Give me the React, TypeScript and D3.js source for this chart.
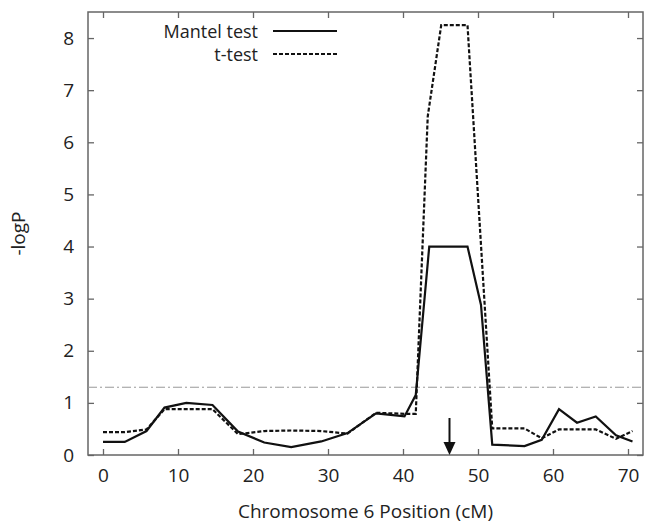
import React, { useEffect, useRef } from 'react';
import * as d3 from 'd3';

// marker positions (cM) and -logP values
const mantelPos = [0, 2.9, 5.8, 8.2, 11.1, 14.6, 18.0, 21.5, 25.1, 29.1, 32.6, 36.4, 40.2, 41.7, 43.5, 45.1, 48.6, 50.4, 51.9, 56.2, 58.5, 60.8, 63.2, 65.7, 68.4, 70.6];
const mantelVal = [0.25, 0.25, 0.46, 0.91, 1.0, 0.96, 0.45, 0.24, 0.15, 0.26, 0.42, 0.8, 0.74, 1.15, 4.0, 4.0, 4.0, 2.88, 0.2, 0.17, 0.29, 0.88, 0.62, 0.74, 0.38, 0.26];

const tPos = [0, 2.9, 5.8, 8.2, 11.1, 14.6, 18.0, 21.5, 25.1, 29.1, 32.6, 36.4, 40.2, 41.7, 43.3, 45.1, 48.6, 51.9, 56.2, 58.5, 60.8, 63.2, 65.7, 68.4, 70.6];
const tVal = [0.44, 0.44, 0.49, 0.88, 0.88, 0.88, 0.4, 0.46, 0.47, 0.46, 0.41, 0.81, 0.79, 0.79, 6.5, 8.25, 8.25, 0.51, 0.51, 0.32, 0.49, 0.49, 0.49, 0.31, 0.46];

const xTicks = [0, 10, 20, 30, 40, 50, 60, 70];
const yTicks = [0, 1, 2, 3, 4, 5, 6, 7, 8];
const threshold = 1.3;
const arrowPos = 46.2;

const seriesNames = ['Mantel test', 't-test'];

const FONT = '"Open Sans", sans-serif';

const App = () => {
  const svgRef = useRef<SVGSVGElement>(null);

  useEffect(() => {
    const svg = d3.select(svgRef.current);
    svg.selectAll('*').remove();

    const left = 88, right = 643, top = 12, bottom = 455;

    const x = d3.scaleLinear().domain([-2, 72]).range([left, right]);
    const y = d3.scaleLinear().domain([0, 8.5]).range([bottom, top]);

    const frameColor = '#666';

    // ticks on all four sides, pointing inward
    const styleAxis = (g) => {
      g.select('.domain').remove();
      g.selectAll('line').attr('stroke', frameColor).attr('stroke-width', 1.3);
      g.selectAll('text')
        .style('font-family', FONT)
        .style('font-size', '19px')
        .attr('fill', '#222');
    };

    svg.append('g')
      .attr('transform', `translate(0,${bottom})`)
      .call(d3.axisBottom(x).tickValues(xTicks).tickSizeInner(-6).tickSizeOuter(0).tickPadding(14))
      .call(styleAxis)
      .selectAll('text').attr('dy', '0.71em');

    svg.append('g')
      .attr('transform', `translate(0,${top})`)
      .call(d3.axisTop(x).tickValues(xTicks).tickSizeInner(-6).tickSizeOuter(0).tickFormat(() => ''))
      .call(styleAxis);

    svg.append('g')
      .attr('transform', `translate(${left},0)`)
      .call(d3.axisLeft(y).tickValues(yTicks).tickSizeInner(-6).tickSizeOuter(0).tickPadding(14))
      .call(styleAxis);

    svg.append('g')
      .attr('transform', `translate(${right},0)`)
      .call(d3.axisRight(y).tickValues(yTicks).tickSizeInner(-6).tickSizeOuter(0).tickFormat(() => ''))
      .call(styleAxis);

    svg.append('rect')
      .attr('x', left)
      .attr('y', top)
      .attr('width', right - left)
      .attr('height', bottom - top)
      .attr('fill', 'none')
      .attr('stroke', frameColor)
      .attr('stroke-width', 1.5);

    // significance threshold
    svg.append('line')
      .attr('x1', left)
      .attr('x2', right)
      .attr('y1', y(threshold))
      .attr('y2', y(threshold))
      .attr('stroke', '#999')
      .attr('stroke-width', 1)
      .attr('stroke-dasharray', '9,3,2,3');

    const line = d3.line<[number, number]>()
      .x(d => x(d[0]))
      .y(d => y(d[1]));

    const tData = tPos.map((p, i) => [p, tVal[i]] as [number, number]);
    const mData = mantelPos.map((p, i) => [p, mantelVal[i]] as [number, number]);

    svg.append('path')
      .datum(tData)
      .attr('d', line)
      .attr('fill', 'none')
      .attr('stroke', '#111')
      .attr('stroke-width', 2.2)
      .attr('stroke-dasharray', '4,2');

    svg.append('path')
      .datum(mData)
      .attr('d', line)
      .attr('fill', 'none')
      .attr('stroke', '#111')
      .attr('stroke-width', 2.2);

    // arrow marking the locus
    const ax = x(arrowPos);
    svg.append('line')
      .attr('x1', ax).attr('x2', ax)
      .attr('y1', y(0.71)).attr('y2', bottom - 12)
      .attr('stroke', '#111')
      .attr('stroke-width', 2);
    svg.append('path')
      .attr('d', `M${ax - 6},${bottom - 13} L${ax + 6},${bottom - 13} L${ax},${bottom} Z`)
      .attr('fill', '#111');

    // legend
    const legend = svg.append('g');
    seriesNames.forEach((name, i) => {
      const ly = 31 + i * 23;
      legend.append('text')
        .attr('x', 258)
        .attr('y', ly + 7)
        .attr('text-anchor', 'end')
        .style('font-family', FONT)
        .style('font-size', '18px')
        .attr('fill', '#222')
        .text(name);
      legend.append('line')
        .attr('x1', 273).attr('x2', 337)
        .attr('y1', ly).attr('y2', ly)
        .attr('stroke', '#111')
        .attr('stroke-width', 2.2)
        .attr('stroke-dasharray', i === 0 ? null : '4,2');
    });

    // axis titles
    svg.append('text')
      .attr('x', (left + right) / 2)
      .attr('y', 518)
      .attr('text-anchor', 'middle')
      .style('font-family', FONT)
      .style('font-size', '19px')
      .attr('fill', '#222')
      .text('Chromosome 6 Position (cM)');

    svg.append('text')
      .attr('transform', `translate(18,${(top + bottom) / 2}) rotate(-90)`)
      .attr('text-anchor', 'middle')
      .attr('dy', '0.35em')
      .style('font-family', FONT)
      .style('font-size', '19px')
      .attr('fill', '#222')
      .text('-logP');
  }, []);

  return (
    <svg
      ref={svgRef}
      width={645}
      height={526}
      style={{ position: 'absolute', left: 0, top: 0, background: '#fff' }}
    />
  );
};

export default App;
